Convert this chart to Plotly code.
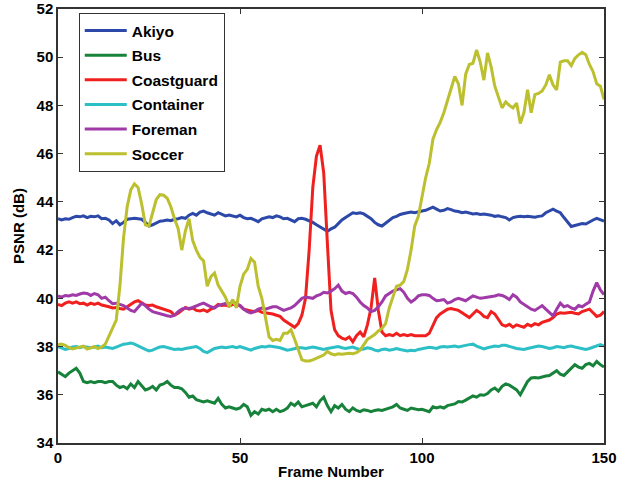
import plotly.graph_objects as go

frames = list(range(0, 151))

akiyo = [
    43.30, 43.25, 43.30, 43.28, 43.35, 43.40, 43.38, 43.42, 43.35, 43.40,
    43.38, 43.42, 43.30, 43.32, 43.25, 43.10, 43.22, 43.05, 43.15, 43.28,
    43.30, 43.32, 43.30, 43.28, 43.15, 43.00, 43.05, 43.12, 43.20, 43.22,
    43.25, 43.22, 43.28, 43.30, 43.35, 43.32, 43.45, 43.52, 43.45, 43.58,
    43.62, 43.55, 43.50, 43.45, 43.55, 43.50, 43.42, 43.45, 43.40, 43.38,
    43.45, 43.35, 43.30, 43.32, 43.25, 43.18, 43.30, 43.35, 43.38, 43.35,
    43.42, 43.38, 43.30, 43.32, 43.25, 43.18, 43.30, 43.32, 43.28, 43.22,
    43.15, 43.05, 42.95, 42.85, 42.78, 42.88, 42.95, 43.10, 43.25, 43.35,
    43.45, 43.55, 43.52, 43.55, 43.50, 43.40, 43.30, 43.15, 43.05, 43.00,
    43.12, 43.25, 43.35, 43.40, 43.48, 43.52, 43.55, 43.58, 43.55, 43.60,
    43.62, 43.65, 43.72, 43.78, 43.70, 43.62, 43.65, 43.72, 43.68, 43.62,
    43.60, 43.55, 43.58, 43.55, 43.50, 43.52, 43.48, 43.50, 43.48, 43.45,
    43.40, 43.42, 43.38, 43.35, 43.25, 43.35, 43.38, 43.40, 43.38, 43.40,
    43.38, 43.36, 43.40, 43.42, 43.55, 43.62, 43.70, 43.62, 43.55, 43.35,
    43.15, 42.98, 43.02, 43.05, 43.10, 43.08, 43.18, 43.25, 43.32, 43.25, 43.20,
]

bus = [
    36.95, 36.85, 36.75, 36.90, 37.00, 37.10, 36.90, 36.55, 36.50, 36.55,
    36.50, 36.55, 36.55, 36.50, 36.55, 36.55, 36.40, 36.30, 36.35, 36.25,
    36.45, 36.30, 36.55, 36.35, 36.20, 36.25, 36.35, 36.20, 36.40, 36.45,
    36.55, 36.40, 36.30, 36.30, 36.25, 36.10, 35.90, 35.95, 35.80, 35.75,
    35.70, 35.75, 35.70, 35.65, 35.85, 35.60, 35.45, 35.50, 35.45, 35.40,
    35.45, 35.60, 35.50, 35.15, 35.30, 35.20, 35.40, 35.35, 35.40, 35.30,
    35.40, 35.30, 35.35, 35.45, 35.65, 35.55, 35.70, 35.50, 35.55, 35.60,
    35.65, 35.50, 35.75, 35.90, 35.55, 35.30, 35.55, 35.45, 35.60, 35.40,
    35.30, 35.45, 35.35, 35.30, 35.38, 35.35, 35.30, 35.35, 35.38, 35.35,
    35.40, 35.45, 35.50, 35.60, 35.45, 35.40, 35.35, 35.45, 35.40, 35.38,
    35.40, 35.35, 35.30, 35.50, 35.45, 35.50, 35.45, 35.55, 35.60, 35.62,
    35.72, 35.70, 35.78, 35.85, 35.95, 35.90, 36.00, 35.98, 36.05, 36.20,
    36.28, 36.15, 36.35, 36.45, 36.40, 36.30, 36.20, 36.00, 36.30, 36.55,
    36.70, 36.72, 36.70, 36.75, 36.78, 36.80, 36.90, 37.00, 36.85, 36.80,
    36.95, 37.10, 37.25, 37.15, 37.10, 37.25, 37.30, 37.20, 37.38, 37.25, 37.15,
]

coastguard = [
    39.75, 39.70, 39.80, 39.85, 39.80, 39.85, 39.78, 39.80, 39.72, 39.80,
    39.75, 39.80, 39.72, 39.70, 39.65, 39.60, 39.62, 39.58, 39.55, 39.65,
    39.75, 39.85, 39.90, 39.80, 39.72, 39.70, 39.72, 39.65, 39.60, 39.55,
    39.50, 39.45, 39.30, 39.38, 39.50, 39.62, 39.55, 39.60, 39.50, 39.48,
    39.52, 39.45, 39.55, 39.62, 39.75, 39.70, 39.72, 39.68, 39.75, 39.72,
    39.70, 39.55, 39.50, 39.48, 39.45, 39.50, 39.42, 39.40, 39.38, 39.35,
    39.30, 39.25, 39.10, 39.00, 38.90, 38.80, 38.95, 39.30, 40.00, 42.00,
    44.60, 45.90, 46.35, 45.20, 42.30, 39.50, 38.70, 38.45, 38.35, 38.30,
    38.40, 38.20, 38.45, 38.60, 38.40, 38.90, 39.60, 40.85, 39.50, 38.60,
    38.45, 38.50, 38.45, 38.55, 38.45, 38.50, 38.45, 38.50, 38.45, 38.45,
    38.45, 38.45, 38.55, 38.90, 39.20, 39.35, 39.45, 39.55, 39.58, 39.55,
    39.50, 39.40, 39.30, 39.20, 39.35, 39.50, 39.40, 39.25, 39.20, 39.45,
    39.35, 39.10, 38.90, 38.85, 38.92, 38.80, 38.90, 38.85, 38.80, 38.92,
    38.85, 38.95, 38.90, 39.00, 39.05, 39.10, 39.20, 39.35, 39.40, 39.38,
    39.40, 39.42, 39.38, 39.35, 39.45, 39.50, 39.55, 39.40, 39.25, 39.30, 39.45,
]

container = [
    38.00, 37.95, 37.88, 37.92, 37.98, 38.00, 37.95, 38.00, 37.98, 37.95,
    37.98, 38.02, 37.95, 37.98, 37.95, 37.92, 37.98, 38.05, 38.10, 38.12,
    38.15, 38.10, 38.02, 37.95, 37.88, 37.82, 37.85, 37.92, 37.98, 38.00,
    37.95, 37.92, 37.88, 37.90, 37.88, 37.92, 37.95, 37.98, 38.00, 37.92,
    37.80, 37.75, 37.85, 37.92, 37.95, 37.98, 37.95, 37.98, 38.00, 37.95,
    38.00, 37.95, 37.90, 37.85, 37.92, 37.95, 38.00, 37.98, 38.02, 38.00,
    37.98, 37.95, 37.90, 37.85, 37.88, 37.92, 37.95, 37.95, 37.92, 37.95,
    37.98, 37.95, 37.92, 37.88, 37.92, 37.95, 37.98, 38.00, 37.95, 37.92,
    37.95, 37.98, 37.92, 37.88, 37.90, 37.95, 37.92, 37.85, 37.82, 37.88,
    37.90, 37.85, 37.88, 37.92, 37.88, 37.85, 37.82, 37.85, 37.83, 37.88,
    37.92, 37.95, 37.97, 37.95, 37.92, 37.98, 38.00, 37.98, 38.00, 38.02,
    37.98, 38.00, 38.05, 38.08, 38.10, 38.02, 37.95, 37.90, 37.95, 38.00,
    38.02, 38.00, 38.05, 38.05, 38.00, 37.95, 37.92, 37.90, 37.88, 37.92,
    37.95, 38.00, 38.02, 38.00, 37.95, 37.92, 37.95, 38.00, 37.98, 37.95,
    38.00, 38.02, 37.98, 37.95, 37.92, 37.88, 37.92, 37.98, 38.05, 38.08, 38.02,
]

foreman = [
    40.10, 40.05, 40.12, 40.10, 40.15, 40.12, 40.18, 40.22, 40.20, 40.12,
    40.20, 40.15, 40.00, 40.05, 39.90, 39.78, 39.80, 39.75, 39.70, 39.60,
    39.50, 39.45, 39.65, 39.80, 39.70, 39.55, 39.45, 39.40, 39.38, 39.30,
    39.28, 39.25, 39.30, 39.45, 39.55, 39.60, 39.58, 39.62, 39.70, 39.75,
    39.80, 39.72, 39.65, 39.60, 39.70, 39.75, 39.78, 39.75, 39.85, 39.78,
    39.70, 39.55, 39.45, 39.40, 39.45, 39.55, 39.60, 39.55, 39.60, 39.65,
    39.65, 39.58, 39.50, 39.55, 39.60, 39.70, 39.85, 40.00, 40.05, 40.02,
    40.00, 40.10, 40.15, 40.25, 40.22, 40.30, 40.40, 40.55, 40.30, 40.20,
    40.25, 40.20, 40.05, 39.85, 39.70, 39.60, 39.45, 39.50, 39.65, 39.85,
    40.10, 40.20, 40.30, 40.35, 40.40, 40.25, 40.00, 39.85, 39.95, 40.10,
    40.15, 40.15, 40.12, 40.00, 39.90, 39.92, 39.95, 39.80, 39.85, 39.95,
    40.00, 39.95, 39.90, 40.00, 40.10, 40.05, 40.00, 40.02, 40.05, 40.05,
    40.10, 40.15, 40.12, 40.05, 39.95, 40.15, 40.05, 39.85, 39.75, 39.65,
    39.55, 39.50, 39.60, 39.70, 39.55, 39.40, 39.27, 39.55, 39.80, 39.65,
    39.70, 39.60, 39.55, 39.70, 39.65, 39.75, 39.85, 40.30, 40.65, 40.35, 40.15,
]

soccer = [
    38.07, 38.10, 38.05, 37.95, 37.90, 37.95, 38.00, 38.02, 37.90, 37.95,
    38.00, 37.92, 37.98, 38.10, 38.45, 38.80, 39.10, 40.50, 42.50, 43.80,
    44.50, 44.75, 44.60, 43.90, 43.05, 43.00, 43.50, 44.10, 44.30, 44.28,
    44.15, 43.80, 43.30, 42.90, 42.00, 42.80, 43.30, 42.40, 42.00, 41.70,
    41.55, 40.50, 40.90, 41.05, 40.55, 40.30, 40.05, 39.65, 39.95, 39.60,
    40.50, 41.00, 41.20, 41.65, 41.50, 40.50, 40.00, 39.20, 38.40, 38.25,
    38.30, 38.25, 38.55, 38.55, 38.70, 38.30, 37.90, 37.45, 37.40, 37.40,
    37.45, 37.50, 37.58, 37.65, 37.80, 37.70, 37.65, 37.70, 37.68, 37.70,
    37.72, 37.70, 37.75, 37.85, 38.05, 38.30, 38.40, 38.50, 38.65, 38.75,
    38.95, 39.60, 40.05, 40.50, 40.55, 40.70, 41.20, 42.00, 43.00, 43.40,
    44.20, 45.00, 45.60, 46.60, 47.00, 47.30, 47.70, 48.20, 48.70, 49.20,
    48.90, 48.00, 49.30, 49.70, 49.75, 50.30, 49.80, 49.05, 50.18, 49.60,
    48.80, 48.35, 47.90, 48.15, 48.00, 47.90, 48.10, 47.25, 47.70, 48.65,
    47.70, 48.45, 48.50, 48.60, 48.85, 49.27, 48.85, 48.65, 49.80, 49.85,
    49.85, 49.65, 49.95, 50.10, 50.20, 50.10, 49.70, 49.40, 48.90, 48.80, 48.25,
]

series_names = ["Akiyo", "Bus", "Coastguard", "Container", "Foreman", "Soccer"]
series_values = [akiyo, bus, coastguard, container, foreman, soccer]
series_colors = ["#2c48a8", "#17823a", "#f0201e", "#2cc0c6", "#a03aa8", "#bcbf2e"]

x_ticks = [0, 50, 100, 150]
y_ticks = [34, 36, 38, 40, 42, 44, 46, 48, 50, 52]

fig = go.Figure()
for i, (name, vals, col) in enumerate(zip(series_names, series_values, series_colors)):
    fig.add_trace(go.Scatter(
        x=frames, y=vals, mode="lines", name=name,
        line=dict(color=col, width=3),
        legendgroup=name,
    ))

FONT = "Arial, Liberation Sans, sans-serif"
font_main = dict(family=FONT, size=14, color="black")

axis_common = dict(
    showline=True, linecolor="#333333", linewidth=1.5, mirror="ticks",
    ticks="inside", ticklen=5, tickcolor="#333333", tickwidth=1,
    showgrid=False, zeroline=False, automargin=False,
    tickfont=dict(family=FONT, size=15, color="black", weight="bold"),
)

fig.update_layout(
    width=618, height=488,
    margin=dict(l=58, r=14, t=9, b=45),
    paper_bgcolor="white", plot_bgcolor="white",
    font=font_main,
    showlegend=True,
    legend=dict(
        x=0.038, y=0.991, xanchor="left", yanchor="top",
        bordercolor="#333333", borderwidth=1, bgcolor="white",
        font=dict(family=FONT, size=15.5, color="black", weight="bold"),
        tracegroupgap=1.5, itemwidth=42,
    ),
    xaxis=dict(
        range=[0, 150], tickvals=x_ticks,
        title=dict(text="Frame Number", standoff=2,
                   font=dict(family=FONT, size=15, color="black", weight="bold")),
        **axis_common,
    ),
    yaxis=dict(
        range=[34, 52], tickvals=y_ticks,
        title=dict(text="PSNR (dB)", standoff=8,
                   font=dict(family=FONT, size=15, color="black", weight="bold")),
        **axis_common,
    ),
)

fig.write_html("out.html", config={"displayModeBar": False},
               post_script="document.body.style.margin='0';")
